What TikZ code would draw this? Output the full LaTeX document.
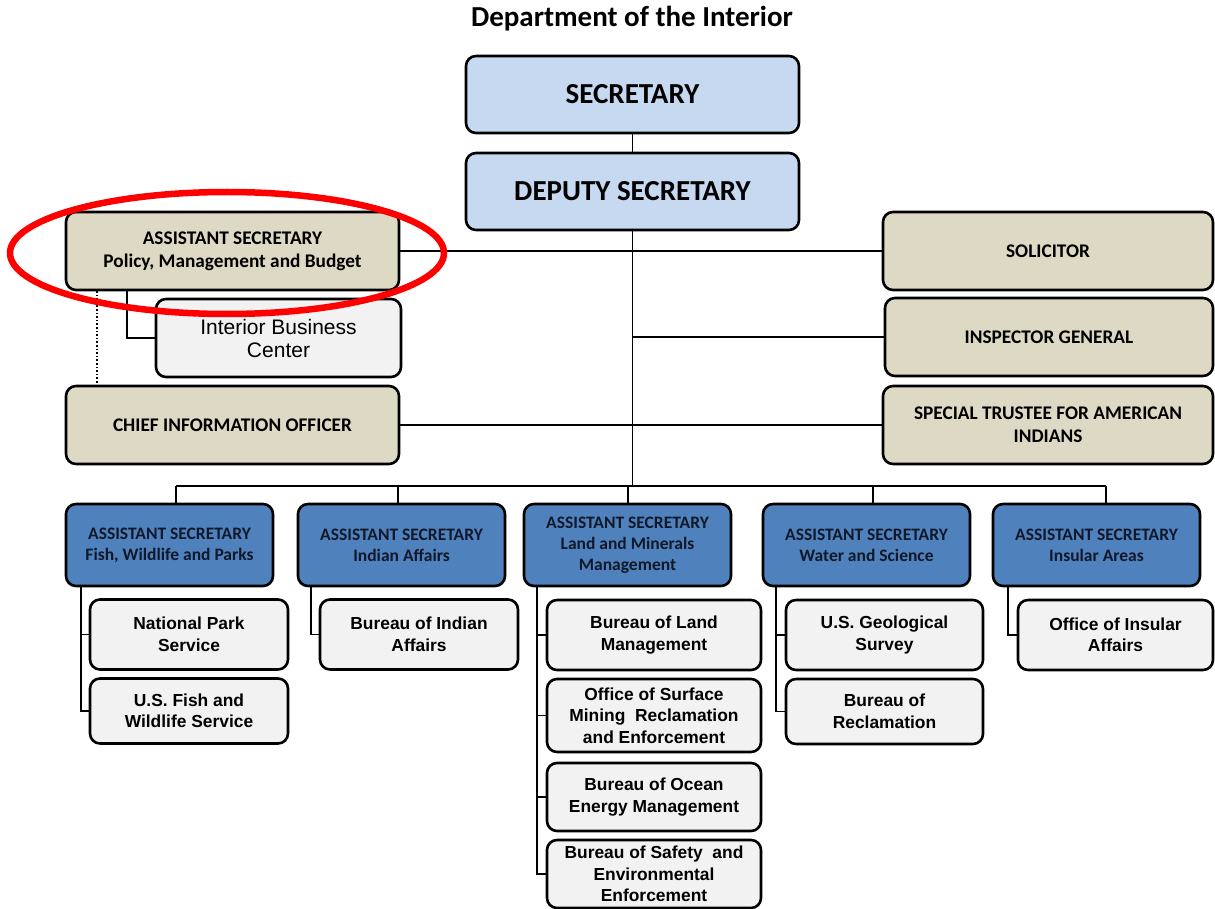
\documentclass[tikz,border=0pt]{standalone}
\usepackage{fontspec}
\newfontfamily\carfont{Carlito}
\newfontfamily\arifont{Liberation Sans}
\definecolor{secblue}{HTML}{C6D9F1}
\definecolor{tanfill}{HTML}{DDD9C4}
\definecolor{asblue}{HTML}{4F81BD}
\definecolor{subgray}{HTML}{F2F2F2}
\definecolor{astext}{HTML}{10182A}
\begin{document}
\begin{tikzpicture}[x=1pt,y=-1pt,
  box/.style={draw=black, line width=2.6pt, rounded corners=10pt, align=center, inner sep=2pt},
  topbox/.style={box, fill=secblue, minimum width=333pt, minimum height=77pt, font=\carfont\bfseries\fontsize{29}{32}\selectfont},
  tanbox/.style={box, fill=tanfill, minimum height=78pt, font=\carfont\bfseries\fontsize{19.3}{23}\selectfont},
  asbox/.style={box, fill=asblue, minimum width=207pt, minimum height=82pt, font=\carfont\bfseries\fontsize{17.5}{21}\selectfont, text=astext},
  subbox/.style={box, fill=subgray, font=\arifont\bfseries\fontsize{17.4}{21.5}\selectfont},
  conn/.style={draw=black, line width=1.8pt},
]
\useasboundingbox (0,0) rectangle (1215,909);
\fill[white] (0,0) rectangle (1215,909);

\node[font=\carfont\bfseries\fontsize{29}{32}\selectfont] (title) at (632,19) {Department of the Interior};

\node[topbox] (sec) at (632.5,94.5) {SECRETARY};
\node[topbox] (dep) at (632.5,191.5) {DEPUTY SECRETARY};

\node[tanbox, minimum width=333pt] (pmb) at (232.5,251) {ASSISTANT SECRETARY\\Policy, Management and Budget};
\node[tanbox, minimum width=330pt] (sol) at (1048,251) {SOLICITOR};
\node[tanbox, minimum width=328pt] (ig) at (1049,337) {INSPECTOR GENERAL};
\node[tanbox, minimum width=330pt] (st) at (1048,425) {SPECIAL TRUSTEE FOR AMERICAN\\INDIANS};
\node[tanbox, minimum width=333pt] (cio) at (232.5,425) {CHIEF INFORMATION OFFICER};
\node[box, fill=subgray, minimum width=245pt, minimum height=78pt, font=\arifont\fontsize{21}{23}\selectfont] (ibc) at (278.5,338) {Interior Business\\Center};

% blue assistant secretaries
\node[asbox] (fwp) at (169.5,545) {ASSISTANT SECRETARY\\Fish, Wildlife and Parks};
\node[asbox] (ia) at (401.5,545) {ASSISTANT SECRETARY\\Indian Affairs};
\node[asbox] (lmm) at (627.5,545) {ASSISTANT SECRETARY\\Land and Minerals\\Management};
\node[asbox] (ws) at (866.5,545) {ASSISTANT SECRETARY\\Water and Science};
\node[asbox] (ins) at (1096.5,545) {ASSISTANT SECRETARY\\Insular Areas};

% sub boxes
\node[subbox, minimum width=198pt, minimum height=70pt] (nps) at (189,634.5) {National Park\\Service};
\node[subbox, minimum width=198pt, minimum height=65pt] (fws) at (189,711) {U.S. Fish and\\Wildlife Service};
\node[subbox, minimum width=198pt, minimum height=70pt] (bia) at (419,634.5) {Bureau of Indian\\Affairs};
\node[subbox, minimum width=214pt, minimum height=70pt] (blm) at (654,635) {Bureau of Land\\Management};
\node[subbox, minimum width=214pt, minimum height=73pt] (osm) at (654,715.5) {Office of Surface\\Mining\ \ Reclamation\\and Enforcement};
\node[subbox, minimum width=214pt, minimum height=68pt] (boem) at (654,797) {Bureau of Ocean\\Energy Management};
\node[subbox, minimum width=214pt, minimum height=68pt] (bsee) at (654,874) {Bureau of Safety\ \ and\\Environmental\\Enforcement};
\node[subbox, minimum width=197pt, minimum height=70pt] (usgs) at (884.5,635) {U.S. Geological\\Survey};
\node[subbox, minimum width=197pt, minimum height=65pt] (bor) at (884.5,711.5) {Bureau of\\Reclamation};
\node[subbox, minimum width=195pt, minimum height=70pt] (oia) at (1115.5,635) {Office of Insular\\Affairs};

% connectors top
\draw[conn] (sec) -- (dep);
\coordinate (busc) at (632.5,486);
\draw[conn] (dep.south) -- (busc);
\draw[conn] (pmb.east) -- (sol.west);
\draw[conn] (dep.south |- ig.west) -- (ig.west);
\draw[conn] (cio.east) -- (st.west);
\coordinate (pmbd) at (127,290);
\draw[conn] (pmbd) -- (pmbd |- ibc.west) -- (ibc.west);
\coordinate (dotA) at (97,291);
\coordinate (dotB) at (97,385);
\draw[line width=1.6pt, dotted] (dotA) -- (dotB);

% bus
\coordinate (busL) at (176,486);
\coordinate (busR) at (1106,486);
\coordinate (bus2) at (398,486);
\coordinate (bus3) at (628,486);
\coordinate (bus4) at (873,486);
\draw[conn] (busL) -- (busR);
\draw[conn] (busL) -- (busL |- fwp.north);
\draw[conn] (bus2) -- (bus2 |- ia.north);
\draw[conn] (bus3) -- (bus3 |- lmm.north);
\draw[conn] (bus4) -- (bus4 |- ws.north);
\draw[conn] (busR) -- (busR |- ins.north);

% sub connectors
\coordinate (vF) at (81,586);
\coordinate (vI) at (311,586);
\coordinate (vL) at (537,586);
\coordinate (vW) at (776,586);
\coordinate (vS) at (1008,586);
\draw[conn] (vF) -- (vF |- fws.west) -- (fws.west);
\draw[conn] (vF |- nps.west) -- (nps.west);
\draw[conn] (vI) -- (vI |- bia.west) -- (bia.west);
\draw[conn] (vL) -- (vL |- bsee.west) -- (bsee.west);
\draw[conn] (vL |- blm.west) -- (blm.west);
\draw[conn] (vL |- osm.west) -- (osm.west);
\draw[conn] (vL |- boem.west) -- (boem.west);
\draw[conn] (vW) -- (vW |- bor.west) -- (bor.west);
\draw[conn] (vW |- usgs.west) -- (usgs.west);
\draw[conn] (vS) -- (vS |- oia.west) -- (oia.west);

% red highlight ellipse
\draw[red, line width=6.5pt] (227,253) ellipse [x radius=217, y radius=61];
\end{tikzpicture}
\end{document}
